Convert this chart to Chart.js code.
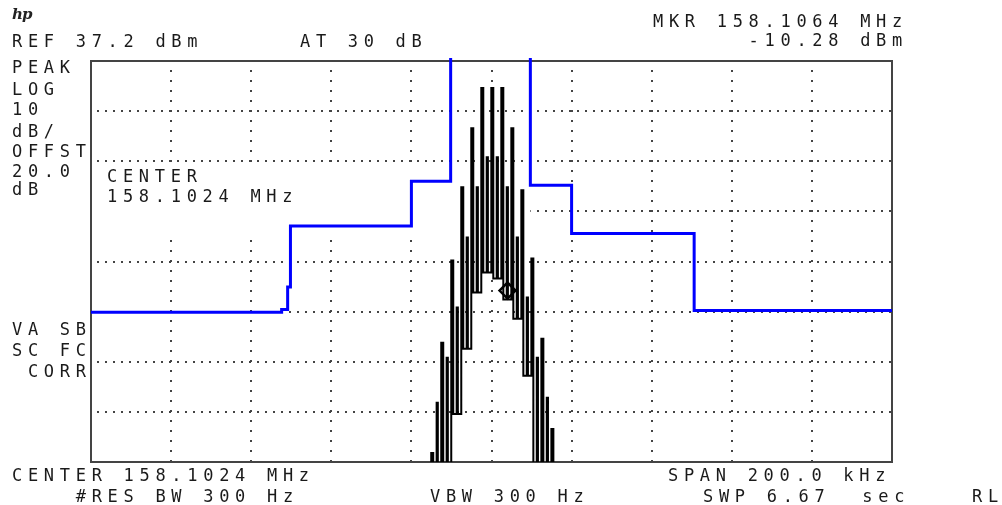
<!DOCTYPE html>
<html>
<head>
<meta charset="utf-8">
<script src="https://cdn.jsdelivr.net/npm/chart.js@4.4.1/dist/chart.umd.min.js"></script>
<style>
  body { margin: 0; background: #fff; }
  #wrap { position: relative; width: 1002px; height: 505px; overflow: hidden; }
  canvas { position: absolute; left: 0; top: 0; }
  .t {
    position: absolute;
    font-family: "DejaVu Sans Mono", "Liberation Mono", monospace;
    font-size: 17px;
    line-height: 17px;
    letter-spacing: 5.7px;
    color: #1a1a1a;
    white-space: pre;
  }
  .hp {
    position: absolute; left: 12px; top: 5px;
    font-family: "DejaVu Serif", serif; font-style: italic; font-weight: bold;
    font-size: 15px; color: #222; letter-spacing: -1px;
  }
</style>
</head>
<body>
<div id="wrap">
  <canvas id="myChart" width="1002" height="505"></canvas>
  <div class="hp">hp</div>
  <div class="t" style="left:653px;top:13px">MKR 158.1064 MHz</div>
  <div class="t" style="left:653px;top:32px">      -10.28 dBm</div>
  <div class="t" style="left:12px;top:33px">REF 37.2 dBm</div>
  <div class="t" style="left:300px;top:33px">AT 30 dB</div>
  <div class="t" style="left:12px;top:59px">PEAK</div>
  <div class="t" style="left:12px;top:81px">LOG</div>
  <div class="t" style="left:12px;top:101px">10</div>
  <div class="t" style="left:12px;top:123px">dB/</div>
  <div class="t" style="left:12px;top:143px">OFFST</div>
  <div class="t" style="left:12px;top:163px">20.0</div>
  <div class="t" style="left:12px;top:181px">dB</div>
  <div class="t" style="left:12px;top:321px">VA SB</div>
  <div class="t" style="left:12px;top:342px">SC FC</div>
  <div class="t" style="left:12px;top:363px"> CORR</div>
  <div class="t" style="left:107px;top:168px">CENTER</div>
  <div class="t" style="left:107px;top:188px">158.1024 MHz</div>
  <div class="t" style="left:12px;top:467px">CENTER 158.1024 MHz</div>
  <div class="t" style="left:668px;top:467px">SPAN 200.0 kHz</div>
  <div class="t" style="left:12px;top:488px">    #RES BW 300 Hz</div>
  <div class="t" style="left:430px;top:488px">VBW 300 Hz</div>
  <div class="t" style="left:703px;top:488px">SWP 6.67  sec</div>
  <div class="t" style="left:972px;top:488px">RL</div>
</div>
<script>
// frequency offset from center (kHz), amplitude in dBm
const xGrid = [-100, -80, -60, -40, -20, 0, 20, 40, 60, 80, 100]
const yGrid = [37.2, 27.2, 17.2, 7.2, -2.8, -12.8, -22.8, -32.8, -42.8]

const maskKHz = [-100, -52.4, -52.4, -50.9, -50.9, -50.2, -50.2, -20, -20, -10.2, -10.2, 9.7, 9.7, 20, 20, 50.6, 50.6, 100]
const maskDbm = [-12.9, -12.9, -12.4, -12.4, -7.9, -7.9, 4.3, 4.3, 13.2, 13.2, 45, 45, 12.4, 12.4, 2.8, 2.8, -12.6, -12.6]

const traceKHz = [
  -100,
  -15.05, -15.05, -14.55, -14.55, -13.7, -13.7, -13.4, -13.4,
  -12.55, -12.55, -12.05, -12.05, -11.2, -11.2, -10.9, -10.9,
  -10.05, -10.05, -9.55, -9.55, -8.7, -8.7, -8.4, -8.4,
  -7.55, -7.55, -7.05, -7.05, -6.2, -6.2, -5.9, -5.9,
  -5.05, -5.05, -4.55, -4.55, -3.7, -3.7, -3.4, -3.4,
  -2.55, -2.55, -2.05, -2.05, -1.2, -1.2, -0.9, -0.9,
  -0.05, -0.05, 0.45, 0.45, 1.3, 1.3, 1.6, 1.6,
  2.45, 2.45, 2.95, 2.95, 3.8, 3.8, 4.1, 4.1,
  4.95, 4.95, 5.45, 5.45, 6.3, 6.3, 6.6, 6.6,
  7.45, 7.45, 7.95, 7.95, 8.8, 8.8, 9.1, 9.1,
  9.95, 9.95, 10.45, 10.45, 11.3, 11.3, 11.6, 11.6,
  12.45, 12.45, 12.95, 12.95, 13.8, 13.8, 14.1, 14.1,
  14.95, 14.95, 15.45, 15.45,
  100
]
const traceDbm = [
  -44,
  -44, -41, -41, -44, -44, -31, -31, -44,
  -44, -19, -19, -44, -44, -22, -22, -44,
  -44, -2.6, -2.6, -33.2, -33.2, -12, -12, -33.2,
  -33.2, 12, 12, -20.2, -20.2, 2, 2, -20.2,
  -20.2, 23.8, 23.8, -9, -9, 12, 12, -9,
  -9, 31.8, 31.8, -5, -5, 18, 18, -5,
  -5, 31.8, 31.8, -6.2, -6.2, 18, 18, -6.2,
  -6.2, 31.8, 31.8, -10.4, -10.4, 12, 12, -10.4,
  -10.4, 23.8, 23.8, -14.2, -14.2, 2, 2, -14.2,
  -14.2, 11.4, 11.4, -25.6, -25.6, -10, -10, -25.6,
  -25.6, -2.2, -2.2, -44, -44, -22, -22, -44,
  -44, -18.2, -18.2, -44, -44, -30, -30, -44,
  -44, -36.2, -36.2, -44,
  -44
]

const markerKHz = [4.0]
const markerDbm = [-8.6]

// annotation area where the analyzer blanks the graticule
const blankBox = { x1: -100, x2: 9.7, y1: 16.8, y2: 2.0 }

const toPoints = (xs, ys) => xs.map((x, i) => ({ x: x, y: ys[i] }))

const graticule = {
  id: "graticule",
  beforeDatasetsDraw(chart) {
    const { ctx, chartArea, scales } = chart
    const x = scales.x, y = scales.y
    ctx.save()
    ctx.fillStyle = "#fff"
    const bx1 = x.getPixelForValue(blankBox.x1) + 2
    const bx2 = x.getPixelForValue(blankBox.x2)
    const by1 = y.getPixelForValue(blankBox.y1)
    const by2 = y.getPixelForValue(blankBox.y2)
    ctx.fillRect(bx1, by1, bx2 - bx1, by2 - by1)
    ctx.strokeStyle = "#444"
    ctx.lineWidth = 2
    ctx.strokeRect(chartArea.left, chartArea.top, chartArea.right - chartArea.left, chartArea.bottom - chartArea.top)
    ctx.restore()
  },
}

const ctx = document.getElementById("myChart").getContext("2d")
new Chart(ctx, {
  type: "scatter",
  data: {
    datasets: [
      {
        label: "Marker",
        data: toPoints(markerKHz, markerDbm),
        pointStyle: "rectRot",
        pointRadius: 8,
        borderColor: "#000",
        borderWidth: 2.5,
        backgroundColor: "rgba(0,0,0,0)",
        order: 0,
      },
      {
        label: "Limit",
        data: toPoints(maskKHz, maskDbm),
        showLine: true,
        borderColor: "#0000ff",
        borderWidth: 3,
        pointRadius: 0,
        clip: { left: 2, top: 3, right: 2, bottom: 2 },
        order: 1,
      },
      {
        label: "Trace",
        data: toPoints(traceKHz, traceDbm),
        showLine: true,
        borderColor: "#000",
        borderWidth: 2,
        pointRadius: 0,
        order: 2,
      },
    ],
  },
  options: {
    responsive: false,
    animation: false,
    devicePixelRatio: 1,
    layout: { padding: { left: 91, top: 61, right: 110, bottom: 43 } },
    plugins: { legend: { display: false }, tooltip: { enabled: false } },
    scales: {
      x: {
        type: "linear",
        min: -100,
        max: 100,
        afterBuildTicks: (s) => { s.ticks = xGrid.map((v) => ({ value: v })) },
        afterFit: (s) => { s.height = 0 },
        ticks: { display: false },
        grid: { color: "#444", lineWidth: 2, drawTicks: false },
        border: { display: false, dash: [2, 8], dashOffset: 1 },
      },
      y: {
        type: "linear",
        min: -42.8,
        max: 37.2,
        afterBuildTicks: (s) => { s.ticks = yGrid.map((v) => ({ value: v })) },
        afterFit: (s) => { s.width = 0 },
        ticks: { display: false },
        grid: { color: "#444", lineWidth: 2, drawTicks: false },
        border: { display: false, dash: [2, 6], dashOffset: 2 },
      },
    },
  },
  plugins: [graticule],
})
</script>
</body>
</html>
